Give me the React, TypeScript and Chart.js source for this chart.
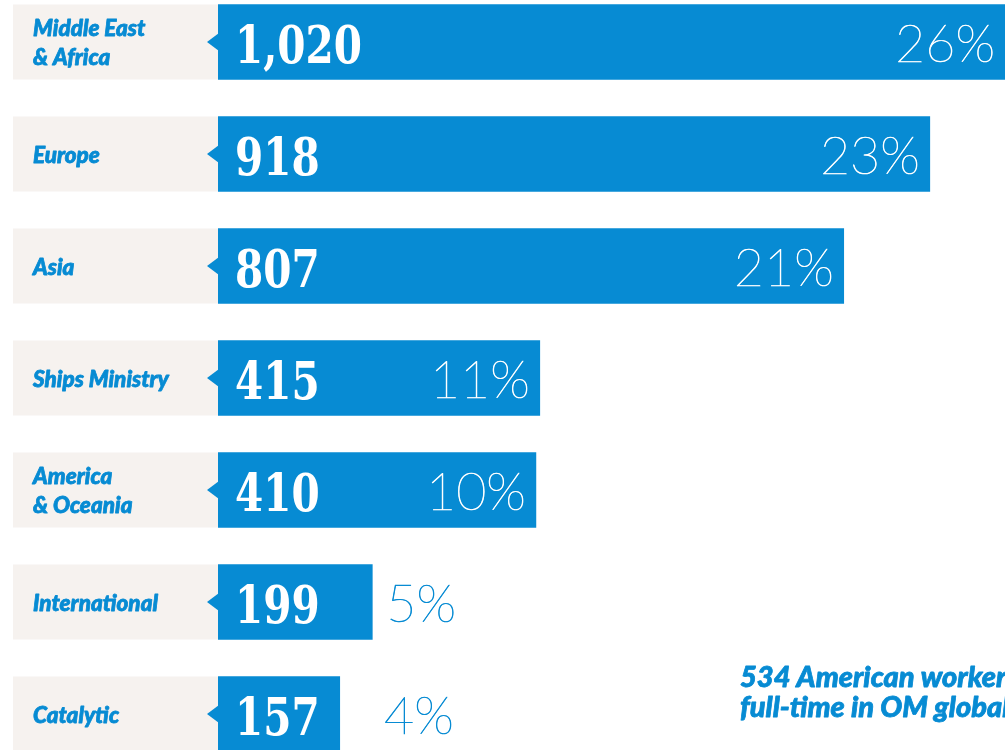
import React, { useEffect, useRef } from "react";
import { Chart, registerables } from "chart.js";

Chart.register(...registerables);

const categories: string[][] = [
  ["Middle East", "& Africa"],
  ["Europe"],
  ["Asia"],
  ["Ships Ministry"],
  ["America", "& Oceania"],
  ["International"],
  ["Catalytic"],
];
const values: number[] = [1020, 918, 807, 415, 410, 199, 157];
const percents: string[] = ["26%", "23%", "21%", "11%", "10%", "5%", "4%"];
const noteLines: string[] = ["534 American workers", "full-time in OM global"];

const BLUE = "#078bd3";
const BOX = "#f6f2ef";
const W = 1005;
const H = 784;
const TOP = -14;

const decorPlugin = {
  id: "decor",
  beforeDatasetsDraw(chart: any) {
    const ctx = chart.ctx;
    const meta = chart.getDatasetMeta(0);
    const left = chart.chartArea.left;
    ctx.save();
    meta.data.forEach((bar: any, i: number) => {
      const h = bar.height;
      const top = bar.y - h / 2;
      ctx.fillStyle = BOX;
      ctx.fillRect(13, top, left - 13, h);
      ctx.fillStyle = BLUE;
      ctx.beginPath();
      ctx.moveTo(left - 11, bar.y);
      ctx.lineTo(left + 1, bar.y - 9);
      ctx.lineTo(left + 1, bar.y + 9);
      ctx.closePath();
      ctx.fill();
      const lines = categories[i];
      ctx.fillStyle = BLUE;
      ctx.strokeStyle = BLUE;
      ctx.lineWidth = 0.8;
      ctx.lineJoin = "round";
      ctx.font = "italic 900 22.5px Lato, 'Noto Sans', sans-serif";
      ctx.textAlign = "left";
      ctx.textBaseline = "alphabetic";
      lines.forEach((ln, j) => {
        const y = bar.y + 8.5 + (j - (lines.length - 1) / 2) * 28.5;
        ctx.fillText(ln, 33, y);
        ctx.strokeText(ln, 33, y);
      });
    });
    ctx.restore();
  },
  afterDatasetsDraw(chart: any) {
    const ctx = chart.ctx;
    const meta = chart.getDatasetMeta(0);
    const left = chart.chartArea.left;
    const right = chart.chartArea.right;
    ctx.save();
    meta.data.forEach((bar: any, i: number) => {
      const end = Math.min(bar.x, right);
      // value (condensed slab serif)
      ctx.save();
      ctx.fillStyle = "#ffffff";
      ctx.font = "bold 52px 'DejaVu Serif', serif";
      ctx.textAlign = "left";
      ctx.textBaseline = "alphabetic";
      ctx.translate(left + 17, bar.y + 20.5);
      ctx.scale(0.78, 1);
      ctx.fillText(values[i].toLocaleString("en-US"), 0, 0);
      ctx.restore();
      // percent (thin)
      ctx.font = "100 52px Lato, 'Noto Sans', sans-serif";
      ctx.textBaseline = "alphabetic";
      ctx.lineWidth = 0.7;
      ctx.lineJoin = "round";
      const len = end - left;
      let x: number;
      if (len > 200) {
        ctx.fillStyle = "#ffffff";
        ctx.strokeStyle = "#ffffff";
        ctx.textAlign = "right";
        x = end - 10;
      } else {
        ctx.fillStyle = BLUE;
        ctx.strokeStyle = BLUE;
        ctx.textAlign = "left";
        x = Math.max(end + 14, left + 166);
      }
      ctx.fillText(percents[i], x, bar.y + 20);
      ctx.strokeText(percents[i], x, bar.y + 20);
    });
    // note
    ctx.fillStyle = BLUE;
    ctx.strokeStyle = BLUE;
    ctx.lineWidth = 0.8;
    ctx.lineJoin = "round";
    ctx.font = "italic 900 29px Lato, 'Noto Sans', sans-serif";
    ctx.textAlign = "left";
    ctx.textBaseline = "alphabetic";
    noteLines.forEach((ln, j) => {
      ctx.fillText(ln, 740, 687 - TOP + j * 29.5);
      ctx.strokeText(ln, 740, 687 - TOP + j * 29.5);
    });
    ctx.restore();
  },
};

export default function App() {
  const ref = useRef<HTMLCanvasElement | null>(null);
  useEffect(() => {
    if (!ref.current) return;
    const chart = new Chart(ref.current, {
      type: "bar",
      data: {
        labels: categories.map((c) => c.join(" ")),
        datasets: [
          {
            data: values,
            backgroundColor: BLUE,
            borderWidth: 0,
            barThickness: 75,
          },
        ],
      },
      options: {
        indexAxis: "y",
        responsive: false,
        animation: false,
        devicePixelRatio: 1,
        layout: { padding: { left: 218, right: 0, top: 0, bottom: 0 } },
        scales: {
          x: { display: false, min: 0, max: 1015 },
          y: { display: false },
        },
        plugins: {
          legend: { display: false },
          tooltip: { enabled: false },
        },
      },
      plugins: [decorPlugin],
    } as any);
    const fonts = [
      "italic 900 22.5px Lato",
      "100 52px Lato",
      "bold 52px 'DejaVu Serif'",
    ];
    if ((document as any).fonts) {
      Promise.all(fonts.map((f) => (document as any).fonts.load(f)))
        .then(() => chart.update())
        .catch(() => {});
    }
    return () => chart.destroy();
  }, []);
  return (
    <div
      style={{
        position: "absolute",
        left: 0,
        top: 0,
        width: W,
        height: 750,
        overflow: "hidden",
        background: "#ffffff",
      }}
    >
      <canvas
        ref={ref}
        width={W}
        height={H}
        style={{ position: "absolute", left: 0, top: TOP, width: W, height: H }}
      />
    </div>
  );
}
